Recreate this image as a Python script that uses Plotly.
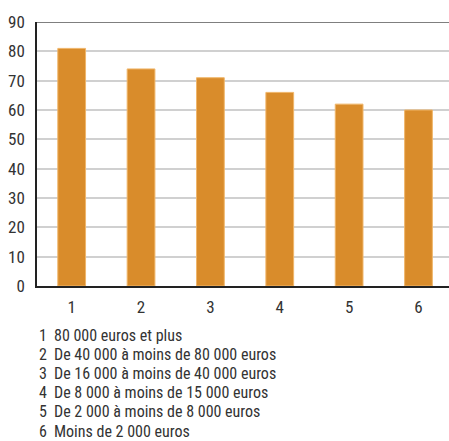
import plotly.graph_objects as go

categories = ["1", "2", "3", "4", "5", "6"]
values = [81, 74, 71, 66, 62, 60]
legend_labels = [
    "80 000 euros et plus",
    "De 40 000 à moins de 80 000 euros",
    "De 16 000 à moins de 40 000 euros",
    "De 8 000 à moins de 15 000 euros",
    "De 2 000 à moins de 8 000 euros",
    "Moins de 2 000 euros",
]
y_ticks = list(range(0, 100, 10))

FONT = "Liberation Sans Narrow, Roboto Condensed, Arial Narrow, Liberation Sans, sans-serif"
W, H = 449, 441
L, R, T, B = 37, 0, 22, 155

xs = list(range(len(categories)))
fig = go.Figure()
fig.add_trace(go.Bar(
    x=xs, y=values, width=0.4,
    marker=dict(color="#D98C2B", line=dict(color="#F0B66A", width=1)),
    hoverinfo="skip",
))

fig.add_shape(type="line", xref="paper", yref="y", x0=0, x1=1, y0=90, y1=90,
              line=dict(color="#555555", width=1.5))

plot_h = H - T - B
for i, (c, lab) in enumerate(zip(categories, legend_labels)):
    ypix = 335 + i * 19.2
    yp = (H - B - ypix) / plot_h
    fig.add_annotation(xref="paper", yref="paper", x=(37 - L) / (W - L - R), y=yp,
                       text=c, showarrow=False, xanchor="left", yanchor="middle",
                       font=dict(family=FONT, size=16, color="#333333"))
    fig.add_annotation(xref="paper", yref="paper", x=(52 - L) / (W - L - R), y=yp,
                       text=lab, showarrow=False, xanchor="left", yanchor="middle",
                       font=dict(family=FONT, size=16, color="#333333"))

fig.update_layout(
    width=W, height=H,
    margin=dict(l=L, r=R, t=T, b=B, pad=0),
    plot_bgcolor="white", paper_bgcolor="white",
    showlegend=False,
    font=dict(family=FONT, size=17, color="#333333"),
    xaxis=dict(
        range=[-0.5, 5.44], tickmode="array", tickvals=xs, ticktext=categories,
        showgrid=False, zeroline=False, showline=True, linecolor="#222222", linewidth=1.5,
        ticks="", ticklabelstandoff=5, tickfont=dict(size=17, color="#333333"),
        fixedrange=True,
    ),
    yaxis=dict(
        range=[0, 90], tickmode="array", tickvals=y_ticks,
        showgrid=True, gridcolor="#D0D0D0", gridwidth=1.5, zeroline=False,
        showline=True, linecolor="#222222", linewidth=1.5,
        ticks="", ticklabelstandoff=7, tickfont=dict(size=17, color="#333333"),
        fixedrange=True,
    ),
)

fig.write_html("out.html")
